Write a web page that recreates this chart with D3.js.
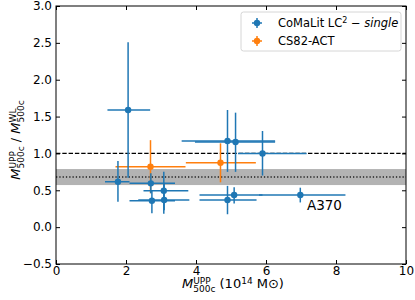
<!DOCTYPE html>
<html>
<head>
<meta charset="utf-8">
<script src="https://cdn.jsdelivr.net/npm/d3@7"></script>
<style>
  body { margin: 0; background: #fff; }
  svg { font-family: "DejaVu Sans", sans-serif; }
</style>
</head>
<body>
<div id="chart"></div>
<script>
const W = 415, H = 300;
const MARGIN = { top: 6, right: 9, bottom: 36, left: 56 };

// CoMaLit LC2 - single
const blueX = [1.77, 2.06, 2.71, 3.08, 2.74, 3.09, 4.90, 5.09, 6.98, 4.90, 5.13, 5.90];
const blueXlo = [1.40, 1.47, 2.10, 2.50, 2.10, 2.35, 4.10, 4.10, 5.80, 3.59, 3.97, 5.20];
const blueXhi = [2.10, 2.69, 3.40, 3.78, 3.40, 3.81, 5.73, 5.90, 8.27, 6.26, 6.26, 7.16];
const blueY = [0.616, 1.589, 0.594, 0.494, 0.358, 0.368, 0.368, 0.436, 0.436, 1.168, 1.155, 1.00];
const blueYlo = [0.345, 0.67, 0.46, 0.18, 0.19, 0.23, 0.175, 0.32, 0.335, 0.75, 0.75, 0.70];
const blueYhi = [0.897, 2.507, 0.73, 0.75, 0.50, 0.60, 0.56, 0.54, 0.535, 1.589, 1.553, 1.304];

// CS82-ACT
const orangeX = [2.70, 4.70];
const orangeXlo = [1.70, 3.71];
const orangeXhi = [3.70, 5.71];
const orangeY = [0.82, 0.874];
const orangeYlo = [0.46, 0.608];
const orangeYhi = [1.18, 1.137];

const xTicks = [0, 2, 4, 6, 8, 10];
const yTicks = [-0.5, 0, 0.5, 1.0, 1.5, 2.0, 2.5, 3.0];

const bandLo = 0.571, bandHi = 0.788, meanRatio = 0.68;

const BLUE = "#1f77b4", ORANGE = "#ff7f0e";

const innerWidth = W - MARGIN.left - MARGIN.right;
const innerHeight = H - MARGIN.top - MARGIN.bottom;

const svg = d3.select("#chart").append("svg")
    .attr("width", W).attr("height", H);

const inner = svg.append("g")
    .attr("transform", `translate(${MARGIN.left},${MARGIN.top})`);

const x = d3.scaleLinear().domain([0, 10]).range([0, innerWidth]);
const y = d3.scaleLinear().domain([-0.5, 3.0]).range([innerHeight, 0]);

// scatter band and reference lines
inner.append("rect")
    .attr("x", 0).attr("width", innerWidth)
    .attr("y", y(bandHi)).attr("height", y(bandLo) - y(bandHi))
    .style("fill", "#b3b3b3");

inner.append("line")
    .attr("x1", 0).attr("x2", innerWidth)
    .attr("y1", y(meanRatio)).attr("y2", y(meanRatio))
    .style("stroke", "#222").style("stroke-width", 1.3)
    .style("stroke-dasharray", "1.3,2");

inner.append("line")
    .attr("x1", 0).attr("x2", innerWidth)
    .attr("y1", y(1)).attr("y2", y(1))
    .style("stroke", "#000").style("stroke-width", 1.2)
    .style("stroke-dasharray", "4.4,1.9");

function drawSeries(xs, xlo, xhi, ys, ylo, yhi, color) {
    const g = inner.append("g");
    const idx = d3.range(xs.length);
    g.selectAll("line.xerr").data(idx).join("line")
        .attr("class", "xerr")
        .attr("x1", (i) => x(xlo[i])).attr("x2", (i) => x(xhi[i]))
        .attr("y1", (i) => y(ys[i])).attr("y2", (i) => y(ys[i]))
        .style("stroke", color).style("stroke-width", 1.5);
    g.selectAll("line.yerr").data(idx).join("line")
        .attr("class", "yerr")
        .attr("x1", (i) => x(xs[i])).attr("x2", (i) => x(xs[i]))
        .attr("y1", (i) => y(ylo[i])).attr("y2", (i) => y(yhi[i]))
        .style("stroke", color).style("stroke-width", 1.5);
    g.selectAll("circle").data(idx).join("circle")
        .attr("cx", (i) => x(xs[i])).attr("cy", (i) => y(ys[i]))
        .attr("r", 3.2)
        .style("fill", color);
}

drawSeries(orangeX, orangeXlo, orangeXhi, orangeY, orangeYlo, orangeYhi, ORANGE);
drawSeries(blueX, blueXlo, blueXhi, blueY, blueYlo, blueYhi, BLUE);

inner.append("text")
    .attr("x", x(7.17)).attr("y", y(0.232))
    .style("font-size", "13.5px")
    .text("A370");

// axes, ticks inward on all sides
const tickLen = 4;
inner.append("g").attr("transform", `translate(0,${innerHeight})`)
    .call(d3.axisBottom(x).tickValues(xTicks).tickSize(-tickLen).tickPadding(2).tickFormat(d3.format("d")));
inner.append("g").attr("class", "no-labels")
    .call(d3.axisTop(x).tickValues(xTicks).tickSize(-tickLen));
inner.append("g")
    .call(d3.axisLeft(y).tickValues(yTicks).tickSize(-tickLen).tickPadding(4)
        .tickFormat((d) => d3.format(".1f")(d).replace("-", "\u2212")));
inner.append("g").attr("class", "no-labels").attr("transform", `translate(${innerWidth},0)`)
    .call(d3.axisRight(y).tickValues(yTicks).tickSize(-tickLen));

inner.selectAll(".no-labels .tick text").remove();
inner.selectAll(".tick text").style("font-size", "12px").style("fill", "#000")
    .style("font-family", "DejaVu Sans");
inner.selectAll(".domain").remove();
inner.selectAll(".tick line").style("stroke", "#000").style("stroke-width", 1);

inner.append("rect")
    .attr("width", innerWidth).attr("height", innerHeight)
    .style("fill", "none").style("stroke", "#000").style("stroke-width", 1);

// M with stacked superscript / subscript
const LABEL = 13, SCRIPT = 9;
function massSymbol(text, sup, sub) {
    text.append("tspan").style("font-style", "italic").text("M");
    const s = text.append("tspan").attr("dy", -4.5).style("font-size", `${SCRIPT}px`).text(sup);
    const supLen = s.node().getComputedTextLength();
    const b = text.append("tspan").attr("dx", -supLen).attr("dy", 8)
        .style("font-size", `${SCRIPT}px`).text(sub);
    const subLen = b.node().getComputedTextLength();
    // continue after the wider of the two
    const extra = Math.max(0, supLen - subLen);
    return { dx: extra, dy: -3.5 };
}

const xl = svg.append("text")
    .attr("x", 233).attr("y", 288)
    .attr("text-anchor", "middle")
    .style("font-size", `${LABEL}px`);
let r = massSymbol(xl, "UPP", "500c");
xl.append("tspan").attr("dx", r.dx).attr("dy", r.dy).text(" (10");
xl.append("tspan").attr("dy", -4.5).style("font-size", `${SCRIPT}px`).text("14");
xl.append("tspan").attr("dy", 4.5).text(" M\u2299)");

const yl = svg.append("text")
    .attr("transform", "translate(20,140) rotate(-90)")
    .attr("text-anchor", "middle")
    .style("font-size", `${LABEL}px`);
r = massSymbol(yl, "UPP", "500c");
yl.append("tspan").attr("dx", r.dx).attr("dy", r.dy).text(" / ");
massSymbol(yl, "WL", "500c");

// legend
const legend = svg.append("g").attr("transform", "translate(241,12)");
legend.append("rect")
    .attr("width", 160).attr("height", 39).attr("rx", 2.5)
    .style("fill", "#fff").style("fill-opacity", 0.8)
    .style("stroke", "#d6d6d6").style("stroke-width", 1);
const entries = [
    { color: BLUE, y: 11 },
    { color: ORANGE, y: 29 }
];
entries.forEach((e) => {
    const g = legend.append("g").attr("transform", `translate(16,${e.y})`);
    g.append("line").attr("x1", -5).attr("x2", 5).attr("y1", 0).attr("y2", 0)
        .style("stroke", e.color).style("stroke-width", 1.5);
    g.append("line").attr("x1", 0).attr("x2", 0).attr("y1", -5).attr("y2", 5)
        .style("stroke", e.color).style("stroke-width", 1.5);
    g.append("circle").attr("r", 3.2).style("fill", e.color);
});
const t1 = legend.append("text").attr("x", 37).attr("y", 15).style("font-size", "11.5px");
t1.append("tspan").text("CoMaLit LC");
t1.append("tspan").attr("dy", -4.5).style("font-size", "8px").text("2");
t1.append("tspan").attr("dy", 4.5).text(" \u2212 ");
t1.append("tspan").style("font-style", "italic").text("single");
legend.append("text").attr("x", 37).attr("y", 33).style("font-size", "11.5px").text("CS82-ACT");
</script>
</body>
</html>
